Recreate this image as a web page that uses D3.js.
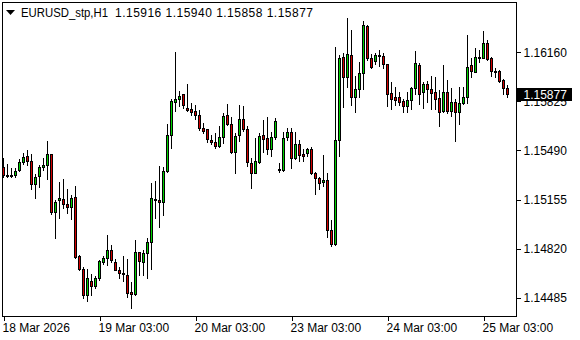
<!DOCTYPE html>
<html>
<head>
<meta charset="utf-8">
<script src="https://cdn.jsdelivr.net/npm/d3@7"></script>
<style>
  body { margin: 0; background: #fff; }
  svg { display: block; }
  text { font-family: "Liberation Sans", Arial, sans-serif; font-size: 12px; fill: #000; }
</style>
</head>
<body>
<svg id="chart"></svg>
<script>
const width = 580;
const height = 340;

const symbol = "EURUSD_stp,H1";

// OHLC of the visible H1 bars, 18 Mar 03:00 .. 25 Mar 09:00
const opens = [
  1.15379, 1.15324, 1.15322, 1.15323, 1.15354, 1.15414, 1.15450, 1.15418, 1.15259, 1.15313,
  1.15375, 1.15391, 1.15464, 1.15072, 1.15150, 1.15159, 1.15122, 1.15102, 1.15170, 1.14767,
  1.14685, 1.14503, 1.14603, 1.14565, 1.14622, 1.14731, 1.14754, 1.14808, 1.14731, 1.14678,
  1.14651, 1.14644, 1.14526, 1.14508, 1.14795, 1.14726, 1.14788, 1.14867, 1.15159, 1.15152,
  1.15136, 1.15350, 1.15596, 1.15823, 1.15839, 1.15873, 1.15778, 1.15773, 1.15757, 1.15732,
  1.15641, 1.15634, 1.15559, 1.15550, 1.15518, 1.15580, 1.15732, 1.15671, 1.15477, 1.15596,
  1.15703, 1.15634, 1.15407, 1.15338, 1.15409, 1.15596, 1.15573, 1.15498, 1.15580, 1.15364,
  1.15354, 1.15580, 1.15614, 1.15436, 1.15534, 1.15464, 1.15470, 1.15500, 1.15338, 1.15300,
  1.15272, 1.15288, 1.14947, 1.14849, 1.15562, 1.16128, 1.15989, 1.16142, 1.15853, 1.15910,
  1.16017, 1.16340, 1.16119, 1.16103, 1.16137, 1.16135, 1.16080, 1.15880, 1.15853, 1.15853,
  1.15828, 1.15796, 1.15835, 1.15914, 1.16074, 1.15887, 1.15942, 1.15910, 1.15887, 1.15846,
  1.15762, 1.15887, 1.15762, 1.15819, 1.15755, 1.15812, 1.15853, 1.16074, 1.16028, 1.16125,
  1.16124, 1.16222, 1.16119, 1.16033, 1.16033, 1.15971, 1.15916
];
const highs = [
  1.15436, 1.15395, 1.15373, 1.15368, 1.15430, 1.15470, 1.15493, 1.15464, 1.15327, 1.15391,
  1.15436, 1.15555, 1.15466, 1.15152, 1.15277, 1.15295, 1.15225, 1.15186, 1.15247, 1.14776,
  1.14697, 1.14685, 1.14649, 1.14635, 1.14742, 1.14772, 1.14913, 1.14845, 1.14749, 1.14697,
  1.14772, 1.14747, 1.14594, 1.14879, 1.14799, 1.14810, 1.14895, 1.15270, 1.15282, 1.15386,
  1.15379, 1.15668, 1.15841, 1.16160, 1.15896, 1.15875, 1.15944, 1.15812, 1.15800, 1.15766,
  1.15675, 1.15636, 1.15596, 1.15607, 1.15657, 1.15744, 1.15807, 1.15721, 1.15607, 1.15800,
  1.15794, 1.15657, 1.15436, 1.15577, 1.15607, 1.15698, 1.15719, 1.15619, 1.15709, 1.15402,
  1.15614, 1.15641, 1.15641, 1.15619, 1.15562, 1.15498, 1.15509, 1.15516, 1.15345, 1.15311,
  1.15459, 1.15334, 1.15015, 1.16197, 1.16142, 1.16153, 1.16392, 1.16313, 1.16001, 1.16092,
  1.16374, 1.16347, 1.16146, 1.16153, 1.16176, 1.16153, 1.16082, 1.15960, 1.15926, 1.15887,
  1.15841, 1.15887, 1.15926, 1.16169, 1.16085, 1.15960, 1.15964, 1.15998, 1.15994, 1.15903,
  1.16074, 1.15971, 1.15914, 1.15839, 1.15926, 1.15926, 1.16278, 1.16124, 1.16192, 1.16176,
  1.16306, 1.16244, 1.16126, 1.16051, 1.16040, 1.15978, 1.15940
];
const lows = [
  1.15311, 1.15311, 1.15311, 1.15311, 1.15350, 1.15395, 1.15391, 1.15225, 1.15168, 1.15243,
  1.15357, 1.15295, 1.15054, 1.14895, 1.15031, 1.15099, 1.15061, 1.15020, 1.14754, 1.14674,
  1.14485, 1.14465, 1.14503, 1.14553, 1.14606, 1.14713, 1.14708, 1.14726, 1.14674, 1.14622,
  1.14599, 1.14492, 1.14417, 1.14503, 1.14644, 1.14644, 1.14617, 1.14685, 1.15031, 1.14970,
  1.15049, 1.15345, 1.15505, 1.15762, 1.15796, 1.15782, 1.15760, 1.15732, 1.15705, 1.15630,
  1.15607, 1.15550, 1.15536, 1.15509, 1.15516, 1.15543, 1.15664, 1.15470, 1.15338, 1.15555,
  1.15625, 1.15386, 1.15236, 1.15334, 1.15402, 1.15482, 1.15464, 1.15455, 1.15566, 1.15345,
  1.15350, 1.15562, 1.15373, 1.15432, 1.15420, 1.15420, 1.15452, 1.15327, 1.15191, 1.15227,
  1.15250, 1.14902, 1.14838, 1.14845, 1.15452, 1.15789, 1.15926, 1.15800, 1.15755, 1.15857,
  1.15910, 1.16108, 1.16051, 1.16080, 1.16069, 1.16051, 1.15796, 1.15773, 1.15800, 1.15800,
  1.15750, 1.15750, 1.15773, 1.15876, 1.15807, 1.15782, 1.15823, 1.15773, 1.15773, 1.15659,
  1.15755, 1.15744, 1.15728, 1.15557, 1.15668, 1.15805, 1.15812, 1.15994, 1.16028, 1.16096,
  1.16119, 1.16108, 1.16001, 1.15994, 1.15960, 1.15876, 1.15858
];
const closes = [
  1.15323, 1.15322, 1.15323, 1.15350, 1.15409, 1.15443, 1.15418, 1.15259, 1.15311, 1.15375,
  1.15391, 1.15464, 1.15068, 1.15140, 1.15165, 1.15122, 1.15102, 1.15165, 1.14765, 1.14685,
  1.14503, 1.14617, 1.14565, 1.14622, 1.14735, 1.14754, 1.14808, 1.14740, 1.14678, 1.14651,
  1.14647, 1.14519, 1.14508, 1.14795, 1.14735, 1.14788, 1.14863, 1.15163, 1.15161, 1.15136,
  1.15350, 1.15596, 1.15828, 1.15841, 1.15862, 1.15800, 1.15766, 1.15755, 1.15732, 1.15641,
  1.15625, 1.15566, 1.15550, 1.15518, 1.15580, 1.15725, 1.15671, 1.15477, 1.15589, 1.15703,
  1.15634, 1.15409, 1.15338, 1.15418, 1.15589, 1.15566, 1.15498, 1.15580, 1.15691, 1.15354,
  1.15573, 1.15614, 1.15436, 1.15534, 1.15459, 1.15455, 1.15498, 1.15334, 1.15300, 1.15266,
  1.15288, 1.14947, 1.14849, 1.15562, 1.16124, 1.15989, 1.16146, 1.15853, 1.15910, 1.16017,
  1.16347, 1.16124, 1.16058, 1.16142, 1.16139, 1.16078, 1.15873, 1.15841, 1.15835, 1.15823,
  1.15796, 1.15835, 1.15919, 1.16085, 1.15873, 1.15942, 1.15910, 1.15885, 1.15839, 1.15755,
  1.15887, 1.15762, 1.15819, 1.15755, 1.15812, 1.15857, 1.16058, 1.16035, 1.16126, 1.16127,
  1.16222, 1.16115, 1.16035, 1.16031, 1.15967, 1.15914, 1.15877
];

// price scale labels on the right
const priceTicks = [1.16160, 1.15825, 1.15490, 1.15155, 1.14820, 1.14485];

// time labels: bar index -> text
const timeTickIdx = [0, 24, 48, 72, 96, 120];
const timeTickLabels = ["18 Mar 2026", "19 Mar 03:00", "20 Mar 03:00", "23 Mar 03:00", "24 Mar 03:00", "25 Mar 03:00"];

const bars = opens.map((o, i) => ({ i, o, h: highs[i], l: lows[i], c: closes[i] }));
const last = bars[bars.length - 1];

const plot = { left: 2, top: 2, right: 516, bottom: 316 };

const svg = d3.select("#chart")
  .attr("width", width)
  .attr("height", height);

svg.append("rect")
  .attr("width", width)
  .attr("height", height)
  .attr("fill", "#fff");

// bar index -> pixel column of the wick
const x = d3.scaleLinear()
  .domain([0, 1])
  .range([3, 7]);

const y = d3.scaleLinear()
  .domain([1.14361, 1.16503])
  .range([plot.bottom, plot.top]);

const py = v => Math.round(y(v));

// frame
svg.append("rect")
  .attr("x", plot.left + 0.5)
  .attr("y", plot.top + 0.5)
  .attr("width", plot.right - plot.left)
  .attr("height", plot.bottom - plot.top)
  .attr("fill", "none")
  .attr("stroke", "#000")
  .attr("shape-rendering", "crispEdges");

// candles
const candles = svg.append("g")
  .attr("shape-rendering", "crispEdges");

candles.selectAll("line.wick")
  .data(bars)
  .join("line")
  .attr("class", "wick")
  .attr("x1", d => x(d.i) + 0.5)
  .attr("x2", d => x(d.i) + 0.5)
  .attr("y1", d => py(d.h))
  .attr("y2", d => py(d.l) + 1)
  .attr("stroke", "#000");

candles.selectAll("rect.body")
  .data(bars)
  .join("rect")
  .attr("class", "body")
  .attr("x", d => x(d.i) - 0.5)
  .attr("width", 2)
  .attr("y", d => py(Math.max(d.o, d.c)) + 0.5)
  .attr("height", d => Math.max(1, py(Math.min(d.o, d.c)) - py(Math.max(d.o, d.c))))
  .attr("fill", d => d.c >= d.o ? "#00d200" : "#d20000")
  .attr("stroke", "#000");

// price axis
const yAxis = d3.axisRight(y)
  .tickValues(priceTicks)
  .tickFormat(d3.format(".5f"))
  .tickSize(4)
  .tickPadding(3);

const ya = svg.append("g")
  .attr("transform", `translate(${plot.right + 0.5},0)`)
  .call(yAxis);
ya.select(".domain").remove();
ya.selectAll(".tick line").attr("stroke", "#000").attr("shape-rendering", "crispEdges");
ya.selectAll(".tick text")
  .attr("fill", "#000")
  .style("font-family", '"Liberation Sans", Arial, sans-serif')
  .style("font-size", "12px");

// time axis
const xAxis = d3.axisBottom(x)
  .tickValues(timeTickIdx)
  .tickFormat((d, k) => timeTickLabels[k])
  .tickSize(4)
  .tickPadding(3);

const xa = svg.append("g")
  .attr("transform", `translate(0.5,${plot.bottom + 0.5})`)
  .call(xAxis);
xa.select(".domain").remove();
xa.selectAll(".tick line").attr("stroke", "#000").attr("shape-rendering", "crispEdges");
xa.selectAll(".tick text")
  .attr("text-anchor", "start")
  .attr("x", -1.5)
  .attr("y", 15)
  .attr("dy", 0)
  .attr("fill", "#000")
  .style("font-family", '"Liberation Sans", Arial, sans-serif')
  .style("font-size", "12px");

// current price label (covers the nearby scale label, as in the terminal)
const cy = py(last.c);
svg.append("rect")
  .attr("x", plot.right + 1)
  .attr("y", cy - 6)
  .attr("width", 55)
  .attr("height", 13)
  .attr("fill", "#000");
svg.append("text")
  .attr("x", plot.right + 7.5)
  .attr("y", cy + 4.5)
  .style("fill", "#fff")
  .text(d3.format(".5f")(last.c));

// header
svg.append("path")
  .attr("d", "M6,10L15,10L10.5,15Z")
  .attr("fill", "#000");
svg.append("text")
  .attr("x", 21)
  .attr("y", 17)
  .attr("textLength", 87)
  .attr("lengthAdjust", "spacingAndGlyphs")
  .text(symbol);
svg.append("text")
  .attr("x", 115)
  .attr("y", 17)
  .attr("textLength", 198)
  .attr("lengthAdjust", "spacing")
  .text([last.o, last.h, last.l, last.c].map(d3.format(".5f")).join(" "));
</script>
</body>
</html>
